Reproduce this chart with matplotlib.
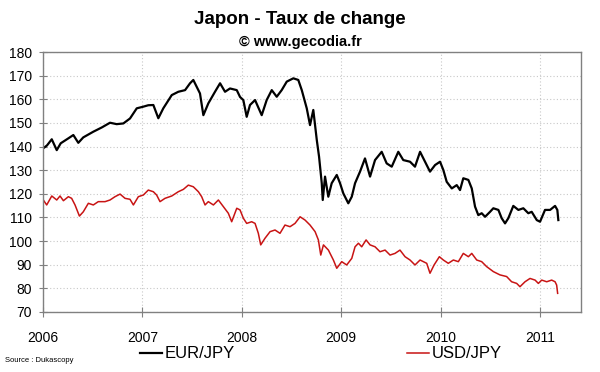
import matplotlib
matplotlib.use('Agg')
import matplotlib.pyplot as plt

plt.rcParams['font.family'] = ['Liberation Sans', 'DejaVu Sans']

# EUR/JPY (fractional year, value)
eur_years = [2006.003, 2006.040, 2006.088, 2006.138, 2006.178, 2006.255, 2006.305, 2006.355,
             2006.405, 2006.506, 2006.591, 2006.674, 2006.741, 2006.808, 2006.875, 2006.943,
             2007.009, 2007.059, 2007.110, 2007.160, 2007.210, 2007.295, 2007.361, 2007.429,
             2007.479, 2007.512, 2007.546, 2007.579, 2007.613, 2007.663, 2007.730, 2007.781,
             2007.831, 2007.881, 2007.949, 2007.982, 2008.015, 2008.049, 2008.082, 2008.133,
             2008.200, 2008.250, 2008.301, 2008.351, 2008.401, 2008.452, 2008.518, 2008.568,
             2008.603, 2008.653, 2008.686, 2008.719, 2008.754, 2008.777, 2008.804, 2008.814,
             2008.837, 2008.870, 2008.904, 2008.955, 2008.988, 2009.021, 2009.071, 2009.106,
             2009.139, 2009.189, 2009.239, 2009.290, 2009.340, 2009.407, 2009.457, 2009.508,
             2009.574, 2009.624, 2009.692, 2009.742, 2009.793, 2009.843, 2009.893, 2009.944,
             2009.994, 2010.027, 2010.061, 2010.112, 2010.162, 2010.195, 2010.228, 2010.279,
             2010.313, 2010.346, 2010.379, 2010.413, 2010.447, 2010.497, 2010.530, 2010.581,
             2010.614, 2010.648, 2010.681, 2010.731, 2010.782, 2010.832, 2010.882, 2010.916,
             2010.967, 2011.000, 2011.050, 2011.101, 2011.151, 2011.174, 2011.184]
eur_jpy = [139.3, 140.5, 143.1, 138.5, 141.4, 143.5, 144.9, 141.6,
           143.9, 146.3, 148.1, 150.1, 149.5, 149.8, 151.9, 156.2,
           156.9, 157.5, 157.6, 152.0, 156.2, 161.8, 163.2, 163.9,
           166.8, 168.2, 165.3, 162.5, 153.3, 158.3, 163.2, 166.8,
           163.2, 164.6, 163.9, 161.0, 159.7, 152.6, 157.6, 159.7,
           153.3, 159.7, 163.9, 161.1, 163.9, 167.5, 168.9, 168.2,
           163.9, 156.2, 149.1, 155.5, 142.8, 135.7, 124.5, 117.4,
           127.3, 118.8, 124.5, 128.0, 124.5, 120.2, 116.0, 118.8,
           124.5, 129.4, 135.0, 127.3, 134.3, 137.8, 132.9, 131.5,
           137.8, 134.3, 133.6, 131.5, 137.8, 133.6, 129.4, 132.2,
           133.6, 130.1, 125.1, 122.3, 123.7, 121.6, 126.6, 125.9,
           122.3, 114.6, 111.0, 111.8, 110.3, 112.4, 113.9, 113.2,
           109.7, 107.5, 109.7, 114.9, 113.2, 113.9, 111.8, 112.4,
           108.9, 108.2, 113.2, 113.2, 114.9, 113.2, 108.9]

# USD/JPY
usd_years = [2006.003, 2006.037, 2006.088, 2006.138, 2006.171, 2006.205, 2006.255, 2006.288,
             2006.322, 2006.366, 2006.405, 2006.456, 2006.506, 2006.556, 2006.624, 2006.674,
             2006.724, 2006.775, 2006.825, 2006.875, 2006.909, 2006.959, 2007.009, 2007.059,
             2007.110, 2007.143, 2007.177, 2007.227, 2007.295, 2007.361, 2007.412, 2007.462,
             2007.512, 2007.563, 2007.596, 2007.630, 2007.663, 2007.714, 2007.764, 2007.814,
             2007.864, 2007.898, 2007.949, 2007.982, 2008.015, 2008.049, 2008.099, 2008.133,
             2008.166, 2008.190, 2008.233, 2008.284, 2008.334, 2008.384, 2008.434, 2008.485,
             2008.535, 2008.586, 2008.636, 2008.686, 2008.737, 2008.770, 2008.794, 2008.821,
             2008.871, 2008.921, 2008.955, 2009.005, 2009.055, 2009.106, 2009.139, 2009.173,
             2009.206, 2009.250, 2009.290, 2009.340, 2009.390, 2009.441, 2009.491, 2009.541,
             2009.591, 2009.642, 2009.692, 2009.742, 2009.793, 2009.860, 2009.893, 2009.934,
             2009.987, 2010.027, 2010.077, 2010.128, 2010.178, 2010.228, 2010.279, 2010.313,
             2010.363, 2010.413, 2010.463, 2010.530, 2010.597, 2010.664, 2010.714, 2010.765,
             2010.798, 2010.849, 2010.899, 2010.950, 2010.983, 2011.017, 2011.067, 2011.117,
             2011.151, 2011.167, 2011.177]
usd_jpy = [117.4, 115.3, 119.1, 117.4, 119.1, 117.1, 118.8, 118.1,
           115.3, 110.6, 112.4, 116.0, 115.3, 116.7, 116.7, 117.4,
           118.8, 119.9, 118.1, 117.7, 115.3, 118.8, 119.5, 121.6,
           120.9, 119.5, 116.7, 118.1, 119.1, 120.9, 121.9, 123.7,
           123.0, 120.9, 118.8, 115.3, 116.7, 115.3, 117.4, 114.6,
           111.8, 108.2, 113.9, 113.2, 109.7, 107.5, 108.2, 107.5,
           103.3, 98.4, 101.2, 104.0, 104.7, 103.3, 106.8, 106.1,
           107.5, 110.3, 108.9, 106.8, 104.0, 100.5, 94.1, 98.4,
           96.2, 92.0, 88.5, 91.3, 89.9, 92.7, 97.6, 99.1,
           97.6, 100.5, 98.4, 97.6, 95.5, 96.2, 94.1, 94.8,
           96.2, 93.4, 92.0, 89.9, 92.0, 90.6, 86.4, 89.9,
           93.4, 92.0, 90.6, 92.0, 91.3, 94.8, 93.4, 94.8,
           92.0, 91.3, 89.2, 87.1, 85.7, 85.0, 82.8, 82.1,
           80.7, 82.8, 84.2, 83.5, 82.1, 83.5, 82.8, 83.5,
           82.8, 81.4, 77.9]

year_ticks = [2006, 2007, 2008, 2009, 2010, 2011]
y_ticks = list(range(70, 181, 10))

fig = plt.figure(figsize=(6, 3.72), dpi=100)
ax = fig.add_axes([0.0717, 0.1613, 0.8963, 0.6987])

ax.plot(eur_years, eur_jpy, color='black', linewidth=1.6, label='EUR/JPY')
ax.plot(usd_years, usd_jpy, color='#c81414', linewidth=1.1, label='USD/JPY')

ax.set_xlim(2006, 2011.41)
ax.set_ylim(70, 180)
ax.set_xticks(year_ticks)
ax.set_xticklabels([str(y) for y in year_ticks])
ax.set_yticks(y_ticks)

ax.grid(True, color='#c8c8c8', linestyle=(0, (1, 2)), linewidth=0.8)
for s in ax.spines.values():
    s.set_color('#808080')
    s.set_linewidth(1)
ax.tick_params(axis='y', direction='inout', length=6, color='#808080', labelsize=10, pad=5)
ax.tick_params(axis='x', direction='inout', length=7, color='#808080', labelsize=10, pad=10)

fig.text(0.5, 1 - 19 / 372, 'Japon - Taux de change', ha='center', va='center',
         fontsize=13.5, fontweight='bold')
fig.text(0.5, 1 - 42 / 372, '© www.gecodia.fr', ha='center', va='center',
         fontsize=10.5, fontweight='bold')
fig.text(5 / 600, 1 - 360 / 372, 'Source : Dukascopy', ha='left', va='center', fontsize=5.5)

fig.legend(loc='center', bbox_to_anchor=(0.535, 1 - 354 / 372), ncol=2, frameon=False,
           fontsize=12, handlelength=1.3, handletextpad=0.2, columnspacing=10.3)

plt.savefig('out.png', dpi=100)
